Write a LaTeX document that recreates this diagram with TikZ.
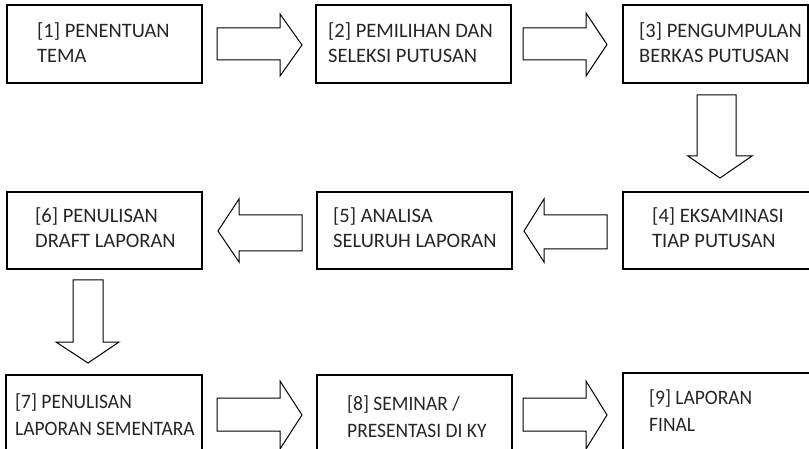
\documentclass[tikz,border=0pt]{standalone}
\usepackage{fontspec}
\setmainfont{Carlito}
\newfontfamily\narrowfont[FakeStretch=0.95]{Carlito}
\begin{document}
\begin{tikzpicture}[x=1pt,y=-1pt,
  box/.style={draw, line width=1.3pt, inner sep=0pt, rectangle},
  txt/.style={anchor=base west, align=left, inner sep=0pt, font=\fontsize{20.5}{25.5}\selectfont, text=black!85},
  ntxt/.style={txt, font=\narrowfont\fontsize{20.5}{26.5}\selectfont},
  blk/.style={draw, line width=1pt, line join=miter, fill=white}]
\useasboundingbox (0,0) rectangle (809,449);
\fill[white] (0,0) rectangle (809,449);
% boxes
\node[box, minimum width=195pt, minimum height=78pt] (b1) at (104.5,44) {};
\node[box, minimum width=195pt, minimum height=78pt] (b2) at (413.5,44) {};
\node[box, minimum width=185pt, minimum height=78pt] (b3) at (715.5,44) {};
\node[box, minimum width=189pt, minimum height=77pt] (b4) at (717.5,230.5) {};
\node[box, minimum width=195pt, minimum height=77pt] (b5) at (414.5,230.5) {};
\node[box, minimum width=195pt, minimum height=77pt] (b6) at (104.5,230.5) {};
\node[box, minimum width=196pt, minimum height=85pt] (b7) at (104,417.5) {};
\node[box, minimum width=195pt, minimum height=85pt] (b8) at (414.5,417.5) {};
\node[box, minimum width=189pt, minimum height=87pt] (b9) at (717.5,416.5) {};
% texts (anchored at the baseline of the last line)
\node[txt] (t1) at (37,63) {[1] PENENTUAN\\TEMA};
\node[txt] (t2) at (328,63) {[2] PEMILIHAN DAN\\SELEKSI PUTUSAN};
\node[txt] (t3) at (639,63) {[3] PENGUMPULAN\\BERKAS PUTUSAN};
\node[txt] (t4) at (652,248) {[4] EKSAMINASI\\TIAP PUTUSAN};
\node[txt] (t5) at (333,248) {[5] ANALISA\\SELURUH LAPORAN};
\node[txt] (t6) at (35,248) {[6] PENULISAN\\DRAFT LAPORAN};
\node[ntxt] (t7) at (15,435) {[7] PENULISAN\\LAPORAN SEMENTARA};
\node[ntxt] (t8) at (347,437) {[8] SEMINAR /\\PRESENTASI DI KY};
\node[ntxt] (t9) at (649,431) {[9] LAPORAN\\FINAL};
% block arrows
\draw[blk] (217,28) -- (280,28) -- (280,14) -- (302,45) -- (280,76) -- (280,60) -- (217,60) -- cycle;
\draw[blk] (523,28) -- (586,28) -- (586,13) -- (607,44.5) -- (586,76) -- (586,60) -- (523,60) -- cycle;
\draw[blk] (697,95) -- (736,95) -- (736,156) -- (752,156) -- (720,178) -- (688,156) -- (697,156) -- cycle;
\draw[blk] (607,215) -- (544,215) -- (544,199) -- (524,231) -- (544,262) -- (544,249) -- (607,249) -- cycle;
\draw[blk] (302,215) -- (239,215) -- (239,199) -- (218,231) -- (239,262) -- (239,251) -- (302,251) -- cycle;
\draw[blk] (73,280) -- (103,280) -- (103,342) -- (119,342) -- (88,363) -- (56,342) -- (73,342) -- cycle;
\draw[blk] (217,398) -- (280,398) -- (280,381) -- (302,415) -- (280,449) -- (280,431) -- (217,431) -- cycle;
\draw[blk] (523,398) -- (586,398) -- (586,381) -- (607,415) -- (586,449) -- (586,431) -- (523,431) -- cycle;
\end{tikzpicture}
\end{document}
